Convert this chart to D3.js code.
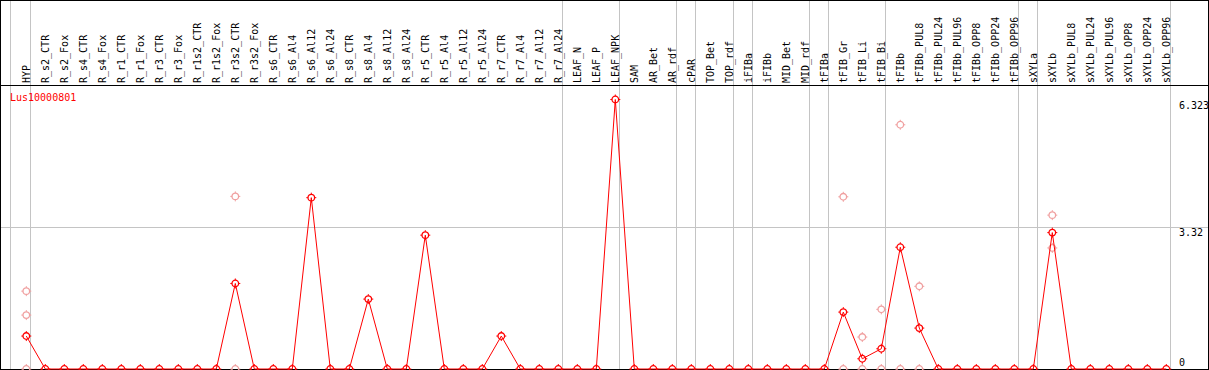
<!DOCTYPE html>
<html>
<head>
<meta charset="utf-8">
<script src="https://cdn.jsdelivr.net/npm/d3@7"></script>
<style>
  body { margin: 0; background: #fff; }
  svg { display: block; }
  text { font-family: "DejaVu Sans Mono", "Liberation Mono", monospace; font-size: 10px; }
</style>
</head>
<body>
<div id="chart"></div>
<script>
// sample columns
var columns = ["HYP", "R_s2_CTR", "R_s2_Fox", "R_s4_CTR", "R_s4_Fox", "R_r1_CTR", "R_r1_Fox",
  "R_r3_CTR", "R_r3_Fox", "R_r1s2_CTR", "R_r1s2_Fox", "R_r3s2_CTR", "R_r3s2_Fox", "R_s6_CTR",
  "R_s6_Al4", "R_s6_Al12", "R_s6_Al24", "R_s8_CTR", "R_s8_Al4", "R_s8_Al12", "R_s8_Al24",
  "R_r5_CTR", "R_r5_Al4", "R_r5_Al12", "R_r5_Al24", "R_r7_CTR", "R_r7_Al4", "R_r7_Al12", "R_r7_Al24",
  "LEAF_N", "LEAF_P", "LEAF_NPK", "SAM", "AR_Bet", "AR_rdf", "cPAR", "TOP_Bet", "TOP_rdf",
  "iFIBa", "iFIBb", "MID_Bet", "MID_rdf", "tFIBa", "tFIB_Gr", "tFIB_Li", "tFIB_Bi", "tFIBb",
  "tFIBb_PUL8", "tFIBb_PUL24", "tFIBb_PUL96", "tFIBb_OPP8", "tFIBb_OPP24", "tFIBb_OPP96",
  "sXYLa", "sXYLb", "sXYLb_PUL8", "sXYLb_PUL24", "sXYLb_PUL96", "sXYLb_OPP8", "sXYLb_OPP24", "sXYLb_OPP96"];

// mean expression (non-zero columns, everything else is 0)
var meanCols = ["HYP", "R_r3s2_CTR", "R_s6_Al12", "R_s8_Al4", "R_r5_CTR", "R_r7_CTR", "LEAF_NPK",
  "tFIB_Gr", "tFIB_Li", "tFIB_Bi", "tFIBb", "tFIBb_PUL8", "sXYLb"];
var meanVals = [0.773, 2.007, 4.02, 1.64, 3.14, 0.773, 6.323,
  1.335, 0.24, 0.475, 2.857, 0.96, 3.20];

// single replicates
var repCols = ["HYP", "HYP", "HYP", "R_r3s2_CTR", "R_r3s2_CTR", "tFIB_Gr", "tFIB_Gr",
  "tFIB_Li", "tFIB_Li", "tFIB_Bi", "tFIB_Bi", "tFIBb", "tFIBb", "tFIBb_PUL8", "tFIBb_PUL8",
  "sXYLb", "sXYLb"];
var repVals = [1.827, 1.265, 0, 4.05, 0, 4.04, 0,
  0.75, 0, 1.40, 0, 5.73, 0, 1.94, 0,
  3.61, 2.84];

// group separators (line after these columns)
var groupEnds = ["HYP", "R_r7_Al24", "LEAF_NPK", "AR_rdf", "cPAR", "TOP_rdf", "iFIBa",
  "MID_rdf", "tFIBa", "tFIB_Bi", "tFIBb_OPP96", "sXYLa", "sXYLb_OPP96"];

var yTicks = [0, 3.32, 6.323];
var geneName = "Lus10000801";

var width = 1209, height = 370;
var headerY = 85, baseY = 369;

var svg = d3.select("#chart").append("svg")
    .attr("width", width)
    .attr("height", height);

var x = d3.scaleBand()
    .domain(columns)
    .range([11, 11 + 19 * columns.length])
    .padding(0);

var y = d3.scaleLinear()
    .domain([0, 6.323])
    .range([baseY, 99.5]);

function px(c) { return x(c) + 15.3; }

var data = columns.map(function(c) {
  var i = meanCols.indexOf(c);
  return {col: c, value: i >= 0 ? meanVals[i] : 0};
});
var reps = repCols.map(function(c, i) { return {col: c, value: repVals[i]}; });

// grid lines
var grid = svg.append("g").attr("shape-rendering", "crispEdges");
grid.append("line")
    .attr("x1", x(columns[0]) - 0.5).attr("x2", x(columns[0]) - 0.5)
    .attr("y1", 0).attr("y2", height)
    .style("stroke", "#c4c4c4");
grid.selectAll(".vsep")
  .data(groupEnds)
  .enter().append("line")
    .attr("class", "vsep")
    .attr("x1", function(d) { return x(d) + x.bandwidth() + 0.5; })
    .attr("x2", function(d) { return x(d) + x.bandwidth() + 0.5; })
    .attr("y1", 0).attr("y2", height)
    .style("stroke", "#c4c4c4");
grid.append("line")
    .attr("x1", 0).attr("x2", width)
    .attr("y1", Math.round(y(3.32)) + 0.5).attr("y2", Math.round(y(3.32)) + 0.5)
    .style("stroke", "#c4c4c4");

// frame
var frame = svg.append("g").attr("shape-rendering", "crispEdges")
    .style("stroke", "#000").style("fill", "none");
frame.append("rect")
    .attr("x", 0.5).attr("y", 0.5)
    .attr("width", width - 1.5).attr("height", baseY);
frame.append("line")
    .attr("x1", 0).attr("x2", width)
    .attr("y1", headerY + 0.5).attr("y2", headerY + 0.5);

// column labels
svg.append("g").selectAll(".collab")
  .data(columns)
  .enter().append("text")
    .attr("class", "collab")
    .attr("transform", function(d) { return "translate(" + (x(d) + 18.5) + "," + (headerY - 2) + ") rotate(-90)"; })
    .attr("text-anchor", "start")
    .style("fill", "#000")
    .text(function(d) { return d; });

// y labels
svg.append("g").selectAll(".ylab")
  .data(yTicks)
  .enter().append("text")
    .attr("class", "ylab")
    .attr("x", 1179)
    .attr("y", function(d) { return d === 0 ? y(d) - 3 : y(d) + 9; })
    .style("fill", "#000")
    .text(function(d) { return d; });

// marker: small circle with tick marks
function marker(sel, color) {
  sel.append("circle")
      .attr("r", 3.3)
      .style("fill", "none")
      .style("stroke", color)
      .style("stroke-width", 1.3);
  sel.append("path")
      .attr("d", "M0,-3.3V-5M0,3.3V5M-3.3,0H-5M3.3,0H5")
      .style("stroke", color)
      .style("stroke-width", 1);
}

// replicate points
svg.append("g").selectAll(".rep")
  .data(reps)
  .enter().append("g")
    .attr("class", "rep")
    .attr("transform", function(d) { return "translate(" + px(d.col) + "," + y(d.value) + ")"; })
    .call(marker, "#f0a0a0");

// mean line
var line = d3.line()
    .x(function(d) { return px(d.col); })
    .y(function(d) { return y(d.value); });

svg.append("path")
    .datum(data)
    .attr("d", line)
    .style("fill", "none")
    .style("stroke", "#ff0000")
    .style("stroke-width", 1);

svg.append("g").selectAll(".pt")
  .data(data)
  .enter().append("g")
    .attr("class", "pt")
    .attr("transform", function(d) { return "translate(" + px(d.col) + "," + y(d.value) + ")"; })
    .call(marker, "#ff0000");

// gene name
svg.append("text")
    .attr("x", 10)
    .attr("y", 101)
    .style("fill", "#ff0000")
    .text(geneName);
</script>
</body>
</html>
